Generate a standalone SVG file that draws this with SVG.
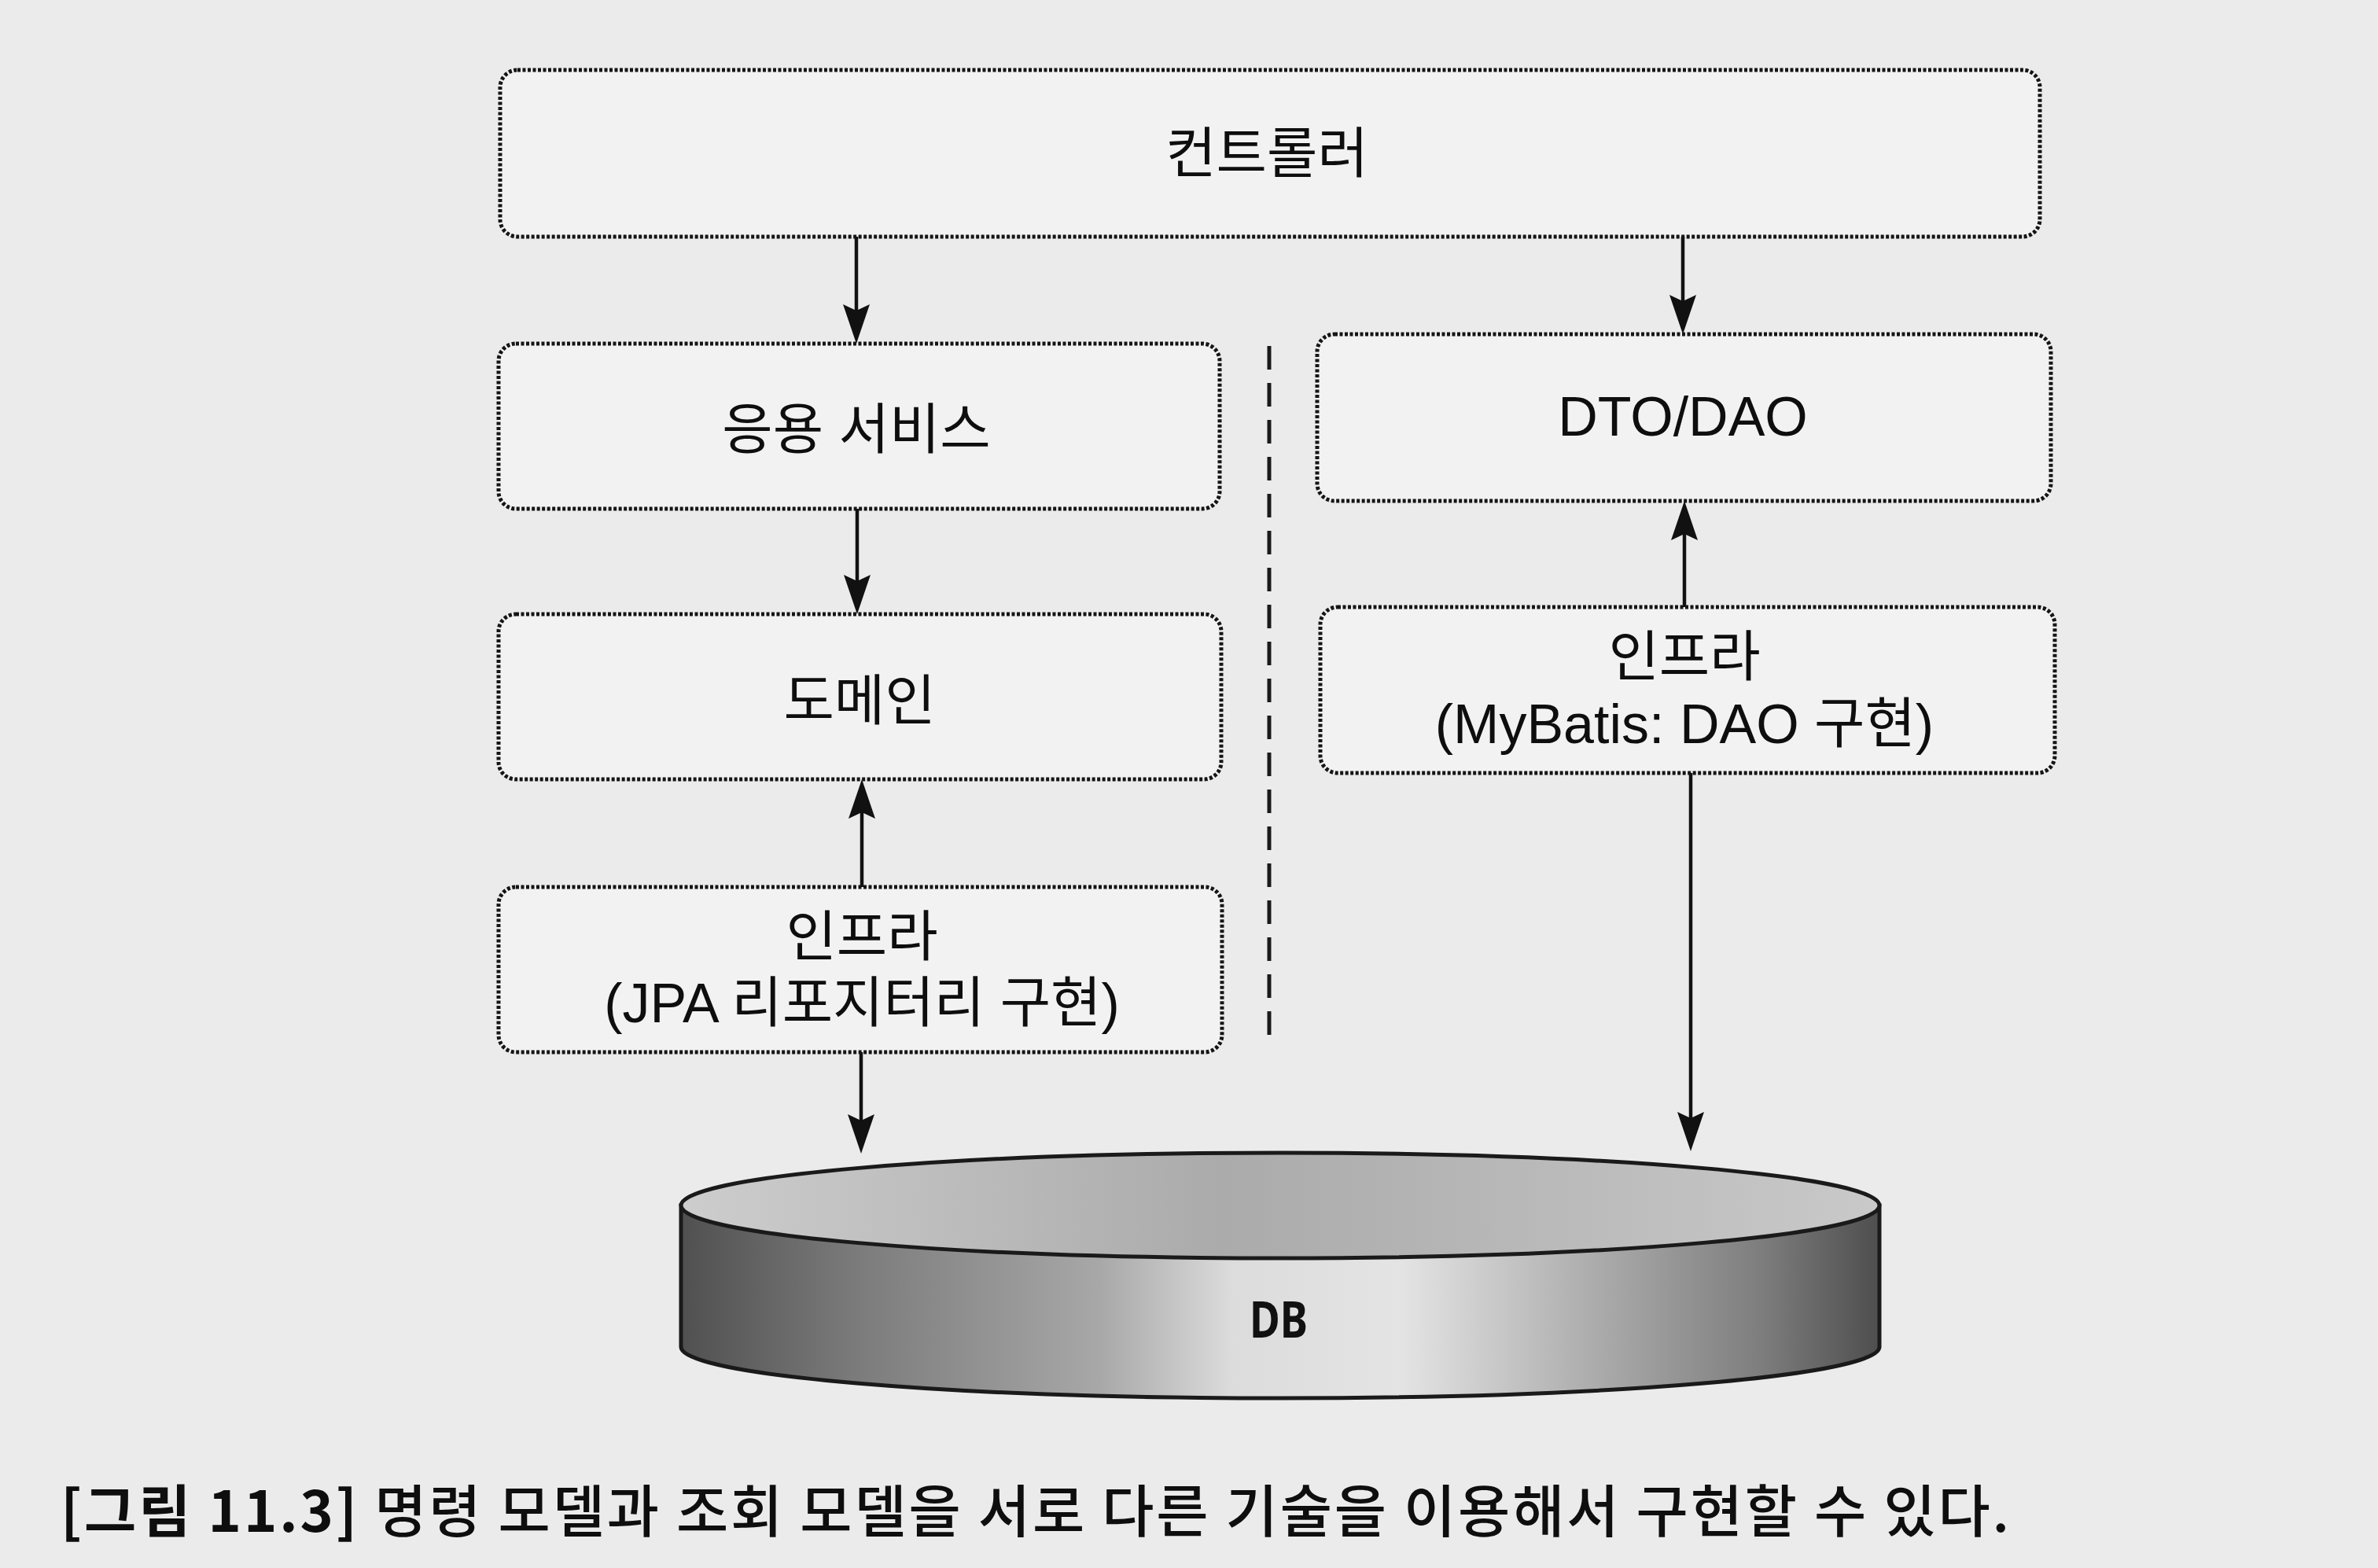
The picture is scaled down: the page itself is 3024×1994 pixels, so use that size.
<svg xmlns="http://www.w3.org/2000/svg" width="3024" height="1994" viewBox="0 0 3024 1994">
<style>
.box{fill:#f2f2f2;stroke:#151515;stroke-width:5;stroke-dasharray:4 2.5}
.lbl{font-family:"Liberation Sans","Noto Sans CJK KR",sans-serif;font-size:70px;fill:#0e0e0e;text-anchor:middle}
.conn{stroke:#111;stroke-width:4.5;fill:none}
.cap{font-family:"Noto Sans CJK KR","Liberation Sans",sans-serif;font-size:72px;fill:#0e0e0e;font-weight:500}
</style>
<defs>
<marker id="ah" viewBox="0 0 50 34" refX="30" refY="17" markerWidth="50" markerHeight="34" markerUnits="userSpaceOnUse" orient="auto">
<path d="M0,0 L50,17 L0,34 L8,17 z" fill="#111"/>
</marker>
<linearGradient id="body" x1="0" y1="0" x2="1" y2="0">
<stop offset="0" stop-color="#505050"/>
<stop offset="0.15" stop-color="#7c7c7c"/>
<stop offset="0.35" stop-color="#a8a8a8"/>
<stop offset="0.46" stop-color="#dcdcdc"/>
<stop offset="0.6" stop-color="#e4e4e4"/>
<stop offset="0.75" stop-color="#b0b0b0"/>
<stop offset="0.9" stop-color="#7e7e7e"/>
<stop offset="1" stop-color="#4e4e4e"/>
</linearGradient>
<linearGradient id="top" x1="0" y1="0" x2="1" y2="0">
<stop offset="0" stop-color="#cdcdcd"/>
<stop offset="0.45" stop-color="#ababab"/>
<stop offset="0.55" stop-color="#b0b0b0"/>
<stop offset="1" stop-color="#c9c9c9"/>
</linearGradient>
</defs>
<rect x="0" y="0" width="3024" height="1994" fill="#ebebeb"/>

<g id="connectors">
<line class="conn" x1="1089" y1="301" x2="1089" y2="417" marker-end="url(#ah)"/>
<line class="conn" x1="2140" y1="299" x2="2140" y2="405" marker-end="url(#ah)"/>
<line class="conn" x1="1090" y1="647" x2="1090" y2="761" marker-end="url(#ah)"/>
<line class="conn" x1="1096" y1="1128" x2="1096" y2="1011" marker-end="url(#ah)"/>
<line class="conn" x1="1095" y1="1338" x2="1095" y2="1447" marker-end="url(#ah)"/>
<line class="conn" x1="2150" y1="983" x2="2150" y2="1444" marker-end="url(#ah)"/>
<line class="conn" x1="2142" y1="772" x2="2142" y2="657" marker-end="url(#ah)"/>
</g>

<g id="divider">
<line x1="1614" y1="440" x2="1614" y2="1331" stroke="#1a1a1a" stroke-width="5" stroke-dasharray="30 17"/>
</g>

<g id="controller">
<rect class="box" x="636" y="89" width="1958" height="212" rx="22"/>
<text class="lbl" x="1611" y="220">컨트롤러</text>
</g>

<g id="app-service">
<rect class="box" x="634" y="437" width="917" height="210" rx="22"/>
<text class="lbl" x="1089" y="571">응용 서비스</text>
</g>

<g id="dto-dao">
<rect class="box" x="1675" y="425" width="933" height="212" rx="22"/>
<text class="lbl" x="2140" y="554">DTO/DAO</text>
</g>

<g id="domain">
<rect class="box" x="634" y="781" width="919" height="210" rx="22"/>
<text class="lbl" x="1093" y="916">도메인</text>
</g>

<g id="infra-mybatis">
<rect class="box" x="1679" y="772" width="934" height="211" rx="22"/>
<text class="lbl" x="2142" y="860">인프라</text>
<text class="lbl" x="2142" y="945">(MyBatis: DAO 구현)</text>
</g>

<g id="infra-jpa">
<rect class="box" x="634" y="1128" width="920" height="210" rx="22"/>
<text class="lbl" x="1096" y="1216">인프라</text>
<text class="lbl" x="1096" y="1300">(JPA 리포지터리 구현)</text>
</g>

<g id="db">
<path d="M866,1533 L866,1713 A762,65 0 0 0 2390,1713 L2390,1533 Z" fill="url(#body)" stroke="#1a1a1a" stroke-width="5"/>
<ellipse cx="1628" cy="1533" rx="762" ry="67" fill="url(#top)" stroke="#1a1a1a" stroke-width="5"/>
<text x="1626" y="1701" font-family="Noto Sans, Liberation Sans, sans-serif" font-size="64" font-weight="bold" fill="#111" text-anchor="middle" textLength="74" lengthAdjust="spacingAndGlyphs">DB</text>
</g>

<g id="caption">
<text class="cap" x="77" y="1948" textLength="2478" lengthAdjust="spacing"><tspan font-weight="bold">[그림 11.3]</tspan> 명령 모델과 조회 모델을 서로 다른 기술을 이용해서 구현할 수 있다.</text>
</g>
</svg>
